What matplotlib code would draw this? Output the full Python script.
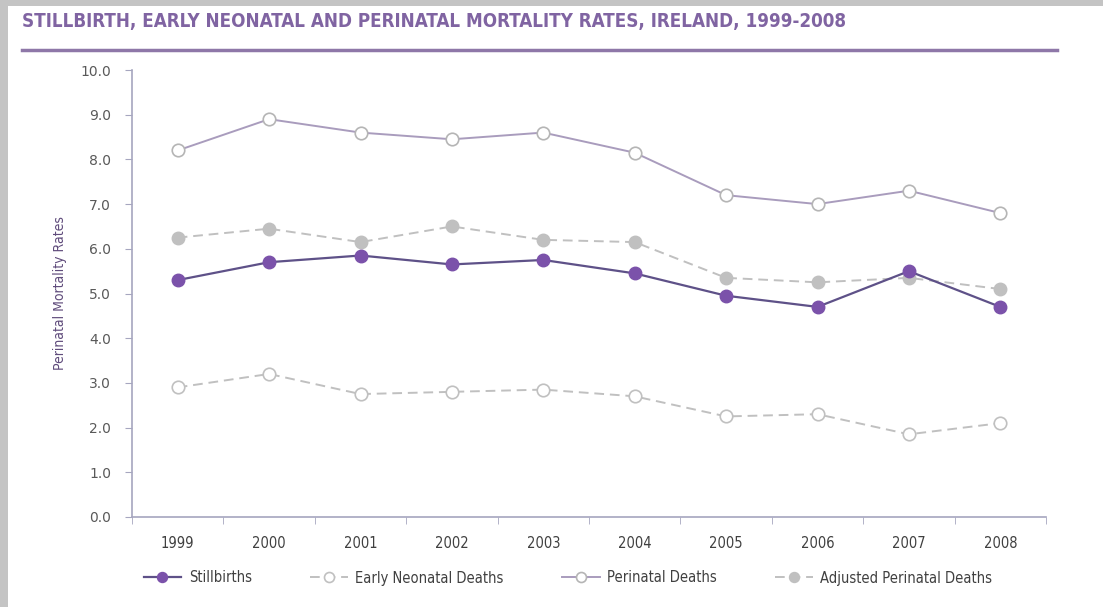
import matplotlib.pyplot as plt
from matplotlib.patches import Rectangle
from matplotlib.lines import Line2D

years = ["1999", "2000", "2001", "2002", "2003", "2004", "2005", "2006", "2007", "2008"]
stillbirths = [5.3, 5.7, 5.85, 5.65, 5.75, 5.45, 4.95, 4.7, 5.5, 4.7]
early_neonatal = [2.9, 3.2, 2.75, 2.8, 2.85, 2.7, 2.25, 2.3, 1.85, 2.1]
perinatal = [8.2, 8.9, 8.6, 8.45, 8.6, 8.15, 7.2, 7.0, 7.3, 6.8]
adjusted = [6.25, 6.45, 6.15, 6.5, 6.2, 6.15, 5.35, 5.25, 5.35, 5.1]

W, H = 1103, 607
COND = dict(family="DejaVu Sans", stretch="condensed")
fig = plt.figure(figsize=(W / 100, H / 100), dpi=100, facecolor="white")
# grey shadow on top/left edges
fig.patches.append(Rectangle((0, 0), 8 / W, 1, transform=fig.transFigure,
                             facecolor="#c4c4c4", edgecolor="none", zorder=-10))
fig.patches.append(Rectangle((0, 1 - 6 / H), 1, 6 / H, transform=fig.transFigure,
                             facecolor="#c4c4c4", edgecolor="none", zorder=-10))

fig.text(22 / W, 1 - 22 / H, "STILLBIRTH, EARLY NEONATAL AND PERINATAL MORTALITY RATES, IRELAND, 1999-2008",
         fontsize=13.5, fontweight="bold", color="#8064a2", va="center", ha="left", **COND)
fig.add_artist(Line2D([22 / W, 1057 / W], [1 - 50 / H, 1 - 50 / H], transform=fig.transFigure,
                      color="#8e77a8", linewidth=2.5))

ax = fig.add_axes([132 / W, 1 - 517 / H, (1046 - 132) / W, (517 - 70) / H])
x = list(range(len(years)))

ax.plot(x, perinatal, color="#a99cbd", linewidth=1.4, marker="o", markersize=9,
        markerfacecolor="white", markeredgecolor="#b5b5b5", markeredgewidth=1.2,
        label="Perinatal Deaths", zorder=3)
ax.plot(x, adjusted, color="#c0c0c0", linewidth=1.4, linestyle=(0, (5, 3)), marker="o",
        markersize=9, markerfacecolor="#c0c0c0", markeredgecolor="#c0c0c0",
        label="Adjusted Perinatal Deaths", zorder=3)
ax.plot(x, early_neonatal, color="#c0c0c0", linewidth=1.4, linestyle=(0, (5, 3)), marker="o",
        markersize=9, markerfacecolor="white", markeredgecolor="#c0c0c0", markeredgewidth=1.2,
        label="Early Neonatal Deaths", zorder=3)
ax.plot(x, stillbirths, color="#5e5188", linewidth=1.6, marker="o", markersize=9,
        markerfacecolor="#7b52aa", markeredgecolor="#7b52aa",
        label="Stillbirths", zorder=4)

ax.set_xlim(-0.5, len(years) - 0.5)
ax.set_ylim(0, 10)
ax.set_yticks([i for i in range(11)])
ax.set_yticklabels([f"{i:.1f}" for i in range(11)], fontsize=10, color="#595959")
ax.set_xticks(x)
ax.set_xticklabels(years, fontsize=10.5, color="#404040", **COND)
ax.set_xticks([i - 0.5 for i in range(len(years) + 1)], minor=True)
ax.tick_params(axis="x", which="major", length=0, pad=14)
ax.tick_params(axis="x", which="minor", length=5, color="#a6a6bf", direction="out")
ax.tick_params(axis="y", length=5, color="#a6a6bf", pad=10)
for s in ["top", "right"]:
    ax.spines[s].set_visible(False)
for s in ["left", "bottom"]:
    ax.spines[s].set_color("#a6a6bf")
    ax.spines[s].set_linewidth(1.2)
ax.set_ylabel("Perinatal Mortality Rates", fontsize=10, color="#5f4b7b", labelpad=10, **COND)

h, l = ax.get_legend_handles_labels()
order = [3, 2, 0, 1]
fig.legend([h[i] for i in order], [l[i] for i in order], loc="center",
           bbox_to_anchor=(568 / W, 1 - 578 / H), ncol=4, frameon=False,
           prop=dict(size=10.5, **COND), labelcolor="#404040",
           handlelength=2.6, handletextpad=0.5, columnspacing=4.0, markerscale=0.8)

fig.savefig("out.png", dpi=100)
